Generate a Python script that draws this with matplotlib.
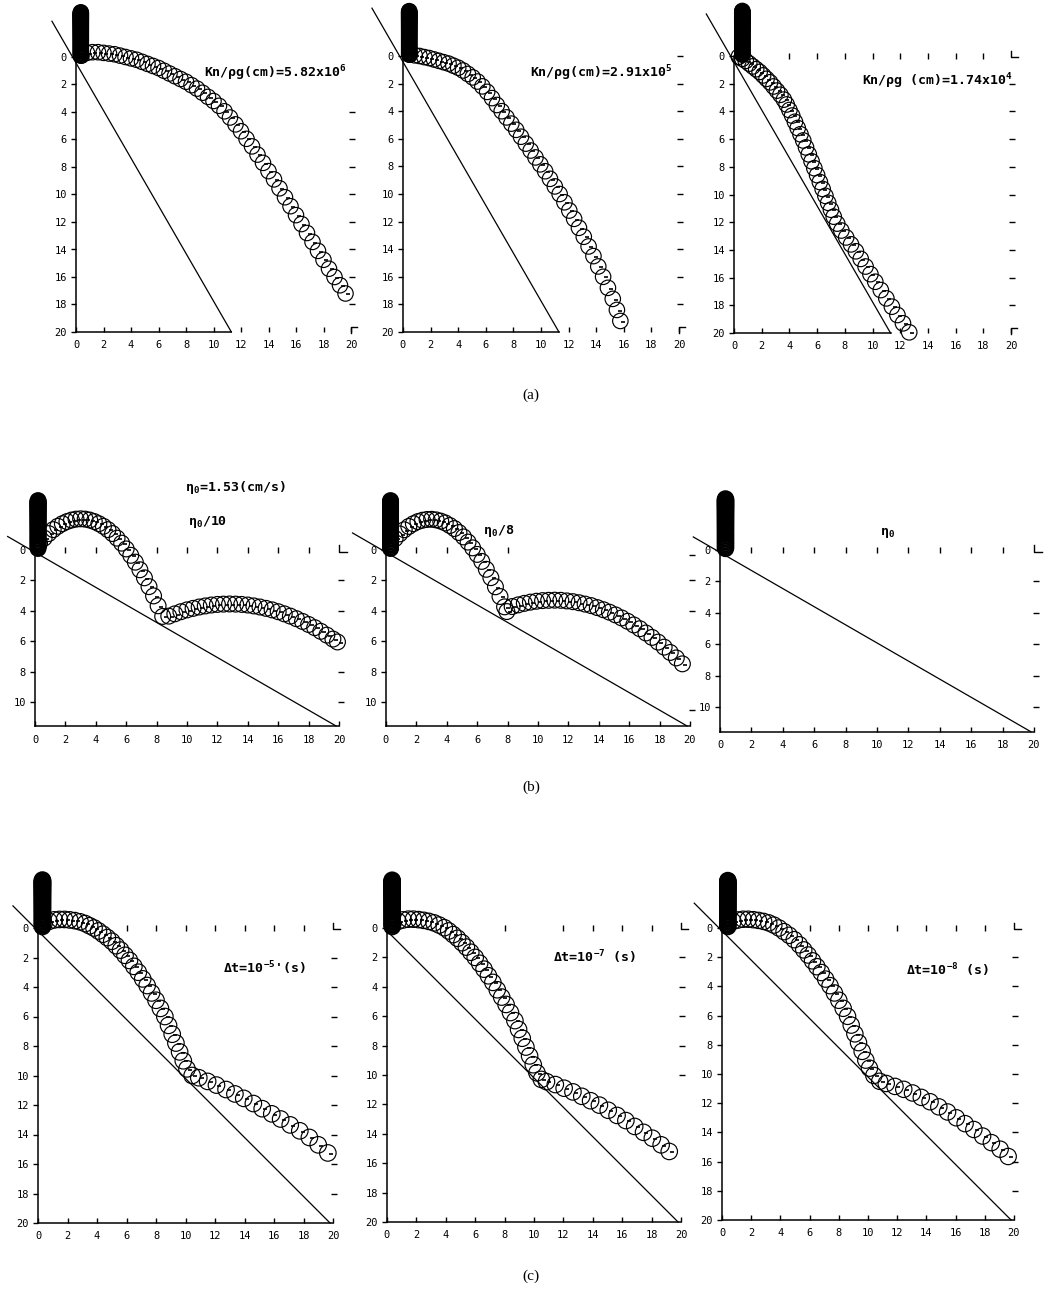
import matplotlib
matplotlib.use('Agg')
import matplotlib.pyplot as plt

plt.rcParams['mathtext.default'] = 'regular'
plt.rcParams['mathtext.fontset'] = 'dejavusans'

W, H, DPI = 1063, 1300, 100

# --- data (cm) ---
# vertical drop column (same for every panel)
drop_y = [-3.25, -3.2, -3.15, -3.1, -3.05, -3.0, -2.95, -2.9, -2.85, -2.8, -2.74, -2.68,
          -2.62, -2.56, -2.5, -2.43, -2.36, -2.29, -2.22, -2.15, -2.07, -1.99, -1.91,
          -1.83, -1.75, -1.66, -1.57, -1.48, -1.39, -1.3, -1.2, -1.1, -1.0, -0.9, -0.8,
          -0.7, -0.6, -0.5, -0.4, -0.3, -0.2, -0.1]

# (a) Kn/rho g = 5.82e6, 2.91e5, 1.74e4
a1_x = [0.4, 0.8, 1.2, 1.6, 2.0, 2.4, 2.8, 3.2, 3.6, 4.0, 4.4, 4.8, 5.2, 5.6, 6.0, 6.4,
        6.8, 7.2, 7.6, 8.0, 8.4, 8.8, 9.2, 9.6, 10.0, 10.4, 10.8, 11.2, 11.6, 12.0, 12.4,
        12.8, 13.2, 13.6, 14.0, 14.4, 14.8, 15.2, 15.6, 16.0, 16.4, 16.8, 17.2, 17.6,
        18.0, 18.4, 18.8, 19.2, 19.6]
a1_y = [-0.1, -0.3, -0.35, -0.35, -0.3, -0.25, -0.2, -0.1, 0.0, 0.1, 0.2, 0.35, 0.5,
        0.65, 0.8, 1.0, 1.2, 1.4, 1.6, 1.8, 2.05, 2.3, 2.6, 2.9, 3.2, 3.55, 3.95, 4.4,
        4.9, 5.4, 5.95, 6.5, 7.1, 7.7, 8.3, 8.9, 9.55, 10.2, 10.85, 11.5, 12.15, 12.8,
        13.45, 14.1, 14.75, 15.4, 16.0, 16.6, 17.2]
a2_x = [0.5, 0.85, 1.2, 1.55, 1.9, 2.25, 2.6, 2.95, 3.3, 3.65, 4.0, 4.35, 4.7, 5.05, 5.4,
        5.75, 6.1, 6.45, 6.8, 7.15, 7.5, 7.85, 8.2, 8.55, 8.9, 9.25, 9.6, 9.95, 10.3,
        10.65, 11.0, 11.35, 11.7, 12.05, 12.4, 12.75, 13.1, 13.45, 13.8, 14.15, 14.5,
        14.85, 15.2, 15.5, 15.75]
a2_y = [-0.1, -0.05, 0.0, 0.08, 0.15, 0.25, 0.35, 0.45, 0.55, 0.7, 0.85, 1.05, 1.3, 1.55,
        1.85, 2.2, 2.6, 3.05, 3.55, 4.0, 4.45, 4.9, 5.35, 5.85, 6.35, 6.85, 7.35, 7.85,
        8.35, 8.9, 9.45, 10.0, 10.6, 11.2, 11.8, 12.45, 13.1, 13.8, 14.5, 15.25, 16.0,
        16.8, 17.6, 18.4, 19.2]
a3_x = [0.35, 0.6, 0.85, 1.1, 1.35, 1.6, 1.85, 2.1, 2.35, 2.6, 2.85, 3.1, 3.35, 3.6, 3.8,
        4.0, 4.2, 4.4, 4.6, 4.8, 5.0, 5.2, 5.4, 5.6, 5.8, 6.0, 6.2, 6.4, 6.6, 6.8, 7.0,
        7.2, 7.45, 7.75, 8.1, 8.45, 8.8, 9.15, 9.5, 9.85, 10.2, 10.6, 11.0, 11.4, 11.8,
        12.2, 12.65]
a3_y = [0.05, 0.2, 0.35, 0.55, 0.75, 0.95, 1.15, 1.4, 1.65, 1.9, 2.2, 2.5, 2.8, 3.15,
        3.5, 3.9, 4.3, 4.75, 5.2, 5.65, 6.1, 6.6, 7.1, 7.6, 8.1, 8.6, 9.1, 9.6, 10.1,
        10.6, 11.1, 11.6, 12.1, 12.6, 13.1, 13.6, 14.1, 14.65, 15.2, 15.75, 16.3, 16.9,
        17.5, 18.1, 18.7, 19.3, 19.95]

# (b) eta0/10, eta0/8, eta0
b1_x = [0.3, 0.6, 0.9, 1.2, 1.5, 1.8, 2.1, 2.4, 2.7, 3.0, 3.3, 3.6, 3.9, 4.2, 4.5, 4.8,
        5.1, 5.4, 5.7, 6.0, 6.3, 6.6, 6.9, 7.2, 7.5, 7.8, 8.1, 8.4,
        8.8, 9.2, 9.6, 10.0, 10.4, 10.8, 11.2, 11.6, 12.0, 12.4, 12.8, 13.2, 13.6, 14.0,
        14.4, 14.8, 15.2, 15.6, 16.0, 16.4, 16.8, 17.2, 17.6, 18.0, 18.4, 18.8, 19.2,
        19.6, 19.9]
b1_y = [-0.45, -0.78, -1.08, -1.34, -1.56, -1.73, -1.87, -1.97, -2.03, -2.05, -2.03,
        -1.97, -1.87, -1.73, -1.56, -1.34, -1.08, -0.78, -0.45, -0.07, 0.35, 0.8, 1.3,
        1.83, 2.41, 3.02, 3.67, 4.37,
        4.35, 4.2, 4.06, 3.94, 3.84, 3.75, 3.68, 3.62, 3.58, 3.56, 3.55, 3.56, 3.58,
        3.62, 3.68, 3.75, 3.84, 3.94, 4.06, 4.2, 4.35, 4.52, 4.7, 4.9, 5.11, 5.35, 5.6,
        5.86, 6.05]
b2_x = [0.3, 0.6, 0.9, 1.2, 1.5, 1.8, 2.1, 2.4, 2.7, 3.0, 3.3, 3.6, 3.9, 4.2, 4.5, 4.8,
        5.1, 5.4, 5.7, 6.0, 6.3, 6.6, 6.9, 7.2, 7.5, 7.8, 7.95,
        8.3, 8.7, 9.1, 9.5, 9.9, 10.3, 10.7, 11.1, 11.5, 11.9, 12.3, 12.7, 13.1, 13.5,
        13.9, 14.3, 14.7, 15.1, 15.5, 15.9, 16.3, 16.7, 17.1, 17.5, 17.9, 18.3, 18.7,
        19.1, 19.5]
b2_y = [-0.4, -0.75, -1.06, -1.33, -1.55, -1.73, -1.87, -1.96, -2.01, -2.02, -1.98,
        -1.9, -1.78, -1.61, -1.41, -1.15, -0.86, -0.52, -0.14, 0.29, 0.75, 1.27, 1.82,
        2.42, 3.06, 3.74, 4.05,
        3.72, 3.61, 3.51, 3.43, 3.37, 3.33, 3.31, 3.3, 3.31, 3.35, 3.4, 3.47, 3.56, 3.66,
        3.79, 3.93, 4.09, 4.27, 4.47, 4.69, 4.93, 5.18, 5.46, 5.75, 6.06, 6.39, 6.74,
        7.1, 7.49]
b3_x = []
b3_y = []

# (c) dt = 1e-5, 1e-7, 1e-8 s
c1_x = [0.4, 0.75, 1.1, 1.45, 1.8, 2.15, 2.5, 2.85, 3.2, 3.5, 3.8, 4.1, 4.4, 4.7, 5.0,
        5.3, 5.6, 5.9, 6.2, 6.5, 6.8, 7.1, 7.4, 7.7, 8.0, 8.3, 8.6, 8.85, 9.1, 9.35, 9.6,
        9.85, 10.1, 10.45, 10.9, 11.5, 12.1, 12.75, 13.35, 13.95, 14.6, 15.2, 15.85,
        16.45, 17.1, 17.75, 18.4, 19.0, 19.65]
c1_y = [-0.3, -0.45, -0.55, -0.58, -0.58, -0.55, -0.5, -0.42, -0.3, -0.15, 0.0, 0.2,
        0.42, 0.65, 0.9, 1.2, 1.5, 1.85, 2.2, 2.6, 3.0, 3.45, 3.9, 4.4, 4.9, 5.45, 6.0,
        6.6, 7.2, 7.8, 8.4, 9.0, 9.55, 10.0, 10.15, 10.4, 10.65, 10.95, 11.25, 11.55,
        11.9, 12.25, 12.6, 12.95, 13.35, 13.75, 14.2, 14.7, 15.25]
c2_x = [0.4, 0.75, 1.1, 1.45, 1.8, 2.15, 2.5, 2.85, 3.2, 3.55, 3.9, 4.2, 4.5, 4.8, 5.1,
        5.4, 5.7, 6.0, 6.3, 6.6, 6.9, 7.2, 7.5, 7.8, 8.1, 8.4, 8.7, 8.95, 9.2, 9.45, 9.7,
        9.95, 10.2, 10.5, 10.85, 11.45, 12.05, 12.65, 13.25, 13.85, 14.45, 15.05, 15.65,
        16.25, 16.85, 17.45, 18.05, 18.65, 19.2]
c2_y = [-0.3, -0.45, -0.55, -0.6, -0.6, -0.57, -0.52, -0.45, -0.35, -0.2, -0.02, 0.2,
        0.45, 0.7, 1.0, 1.3, 1.65, 2.0, 2.4, 2.8, 3.25, 3.7, 4.2, 4.7, 5.2, 5.75, 6.3,
        6.9, 7.5, 8.1, 8.7, 9.3, 9.85, 10.3, 10.45, 10.65, 10.9, 11.15, 11.45, 11.75,
        12.05, 12.4, 12.75, 13.1, 13.5, 13.9, 14.3, 14.75, 15.2]
c3_x = [0.4, 0.75, 1.1, 1.45, 1.8, 2.15, 2.5, 2.85, 3.2, 3.55, 3.9, 4.25, 4.6, 4.95, 5.3,
        5.6, 5.9, 6.2, 6.5, 6.8, 7.1, 7.4, 7.7, 8.0, 8.3, 8.6, 8.85, 9.1, 9.35, 9.6,
        9.85, 10.1, 10.4, 10.8, 11.25, 11.85, 12.45, 13.05, 13.65, 14.25, 14.85, 15.45,
        16.05, 16.65, 17.25, 17.85, 18.45, 19.05, 19.6]
c3_y = [-0.3, -0.45, -0.55, -0.6, -0.6, -0.57, -0.52, -0.45, -0.35, -0.2, 0.0, 0.25,
        0.5, 0.8, 1.15, 1.5, 1.85, 2.25, 2.65, 3.05, 3.5, 3.95, 4.45, 4.95, 5.5, 6.05,
        6.65, 7.25, 7.85, 8.45, 9.05, 9.6, 10.1, 10.5, 10.65, 10.85, 11.05, 11.3, 11.6,
        11.9, 12.25, 12.6, 13.0, 13.4, 13.8, 14.25, 14.7, 15.15, 15.65]

# incline: y = intercept + slope * x  (rows a, b, c)
incline_slope = {'a': 1.732, 'b': 0.577, 'c': 1.0}
incline_icpt = {'a': 0.43, 'b': 0.15, 'c': 0.2}

y_ticks = {'a': [0, 2, 4, 6, 8, 10, 12, 14, 16, 18, 20],
           'b': [0, 2, 4, 6, 8, 10],
           'c': [0, 2, 4, 6, 8, 10, 12, 14, 16, 18, 20]}
x_ticks = [0, 2, 4, 6, 8, 10, 12, 14, 16, 18, 20]
y_bottom = {'a': 20.0, 'b': 11.6, 'c': 20.0}

labels = {
    'a1': 'Kn/ρg(cm)=5.82x10$^{6}$',
    'a2': 'Kn/ρg(cm)=2.91x10$^{5}$',
    'a3': 'Kn/ρg (cm)=1.74x10$^{4}$',
    'b1': '$\\eta_0$/10',
    'b2': '$\\eta_0$/8',
    'b3': '$\\eta_0$',
    'c1': 'Δt=10$^{-5}$\'(s)',
    'c2': 'Δt=10$^{-7}$ (s)',
    'c3': 'Δt=10$^{-8}$ (s)',
}

# --- layout (pixels): origin of data, pixels per cm, etc. ---
panels = [
    # name, row, ox, oy, px/cm, drop x, traj, incline x-range, top marks, right marks, corner L, label pos
    ('a1', 'a', 76, 57, 13.75, 0.35, a1_x, a1_y, (-1.75, 11.3), [], [4, 6, 8, 10, 12, 14, 16, 18], False, (204, 73)),
    ('a2', 'a', 403, 56, 13.8, 0.45, a2_x, a2_y, (-2.25, 11.3), [], [0, 2, 4, 6, 8, 10, 12, 14, 16, 18], False, (530, 73)),
    ('a3', 'a', 734, 56, 13.85, 0.6, a3_x, a3_y, (-2.0, 11.3), [4, 6, 8, 10, 12, 14, 16, 18], [2, 4, 6, 8, 10, 12, 14, 16, 18], True, (862, 81)),
    ('b1', 'b', 35, 550, 15.2, 0.2, b1_x, b1_y, (-1.8, 19.8), [2, 4, 8, 10, 12, 14, 16, 18], [2, 4, 8, 10], True, (188, 522)),
    ('b2', 'b', 386, 550, 15.2, 0.3, b2_x, b2_y, (-2.2, 19.8), [2, 4, 8], [0.3, 2, 4, 10.5], False, (483, 531)),
    ('b3', 'b', 720, 550, 15.7, 0.35, b3_x, b3_y, (-1.7, 19.8), [2, 4, 6, 8, 10, 12, 14, 16, 18], [2, 4, 6, 8, 10], True, (880, 533)),
    ('c1', 'c', 38, 928, 14.75, 0.3, c1_x, c1_y, (-1.7, 19.8), [6, 8, 10, 12, 14, 16, 18], [2, 4, 6, 8, 10, 12, 14, 16, 18], True, (223, 968)),
    ('c2', 'c', 387, 928, 14.7, 0.35, c2_x, c2_y, (0.0, 19.8), [8, 12, 14, 16, 18], [2, 4, 6, 8, 10], True, (553, 957)),
    ('c3', 'c', 722, 928, 14.6, 0.4, c3_x, c3_y, (-1.9, 19.8), [6, 8, 10, 12, 14, 16, 18], [2, 4, 6, 8, 10, 12, 14, 16, 18], True, (906, 970)),
]
ball_r = {'a': 0.56, 'b': 0.52, 'c': 0.56}

fig = plt.figure(figsize=(W / DPI, H / DPI), dpi=DPI)

tick_font = dict(family='DejaVu Sans Mono', size=7.5)
label_font = dict(family='DejaVu Sans Mono', size=9.5, weight='bold')

for name, row, ox, oy, s, dx, tx, ty, (lx0, lx1), top_m, right_m, corner, (tpx, tpy) in panels:
    yb = y_bottom[row]
    xmin, xmax = -3.0, 22.0
    ymin, ymax = -4.5, yb + 2.0
    left = ox + xmin * s
    right = ox + xmax * s
    top = oy + ymin * s
    bottom = oy + ymax * s
    ax = fig.add_axes([left / W, 1 - bottom / H, (right - left) / W, (bottom - top) / H])
    ax.set_xlim(xmin, xmax)
    ax.set_ylim(ymax, ymin)
    ax.patch.set_visible(False)

    for sp in ['top', 'right']:
        ax.spines[sp].set_visible(False)
    ax.spines['left'].set_position(('data', 0))
    ax.spines['bottom'].set_position(('data', yb))
    ax.spines['left'].set_bounds(0, yb)
    xend = lx1 if row == 'a' else 20
    ax.spines['bottom'].set_bounds(0, xend)
    for sp in ['left', 'bottom']:
        ax.spines[sp].set_linewidth(1.1)

    ax.set_xticks(x_ticks)
    ax.set_yticks(y_ticks[row])
    ax.set_xticklabels([str(v) for v in x_ticks], fontdict=tick_font)
    ax.set_yticklabels([str(v) for v in y_ticks[row]], fontdict=tick_font)
    ax.tick_params(axis='x', direction='in', length=3.5, width=1, pad=6)
    ax.tick_params(axis='y', direction='out', length=3.5, width=1, pad=3)

    # incline
    k = incline_slope[row]
    c0 = incline_icpt[row]
    ax.plot([lx0, lx1], [c0 + k * lx0, c0 + k * lx1], color='black', lw=0.9)

    # frame marks
    if top_m:
        ax.plot(top_m, [0] * len(top_m), ls='none', marker='|', ms=4.5, mew=1, color='black')
    if right_m:
        ax.plot([20.1] * len(right_m), right_m, ls='none', marker='_', ms=4, mew=1, color='black')
    if corner:
        ax.plot([20, 20, 20.5], [-0.35, 0.1, 0.1], color='black', lw=1)
    if row == 'a':
        ax.plot([20, 20, 20.4], [yb + 0.1, yb - 0.35, yb - 0.35], color='black', lw=1)

    # balls
    d_pt = 2 * ball_r[row] * s * 72 / DPI
    ax.scatter([dx] * len(drop_y), drop_y, s=(d_pt * 0.95) ** 2, facecolors='none',
               edgecolors='black', linewidths=1.4, clip_on=False)
    if tx:
        ax.scatter(tx, ty, s=d_pt ** 2, facecolors='none', edgecolors='black',
                   linewidths=0.85, clip_on=False)
        ax.scatter([v + 0.2 for v in tx], [v + 0.05 for v in ty], s=6, marker='_',
                   color='black', linewidths=1.2, clip_on=False)

    fig.text(tpx / W, 1 - tpy / H, labels[name], ha='left', va='center', **label_font)

fig.text(185 / W, 1 - 488 / H, '$\\eta_0$=1.53(cm/s)', ha='left', va='center', **label_font)

cap_font = dict(family='Liberation Serif', size=11)
fig.text(531 / W, 1 - 395 / H, '(a)', ha='center', va='center', **cap_font)
fig.text(531 / W, 1 - 787 / H, '(b)', ha='center', va='center', **cap_font)
fig.text(531 / W, 1 - 1276 / H, '(c)', ha='center', va='center', **cap_font)

fig.savefig('out.png', dpi=DPI)
